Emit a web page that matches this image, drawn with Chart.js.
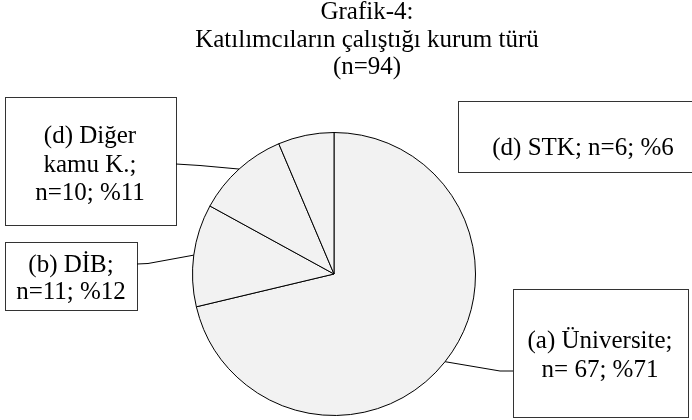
<!DOCTYPE html>
<html>
<head>
<meta charset="utf-8">
<title>Grafik-4</title>
<script src="https://cdn.jsdelivr.net/npm/chart.js@4.4.1/dist/chart.umd.min.js"></script>
<style>
  html, body { margin: 0; padding: 0; background: #fff; }
  #wrap { width: 692px; height: 420px; position: relative; }
</style>
</head>
<body>
<div id="wrap"><canvas id="pieChart"></canvas></div>
<script>
// chart data
const categories = ['(a) Üniversite', '(b) DİB', '(d) Diğer kamu K.', '(d) STK'];
const counts = [67, 11, 10, 6];
const percents = [71, 12, 11, 6];
const labelLines = [
  ['(a) Üniversite;', 'n= 67; %71'],
  ['(b) DİB;', 'n=11; %12'],
  ['(d) Diğer', 'kamu K.;', 'n=10; %11'],
  ['(d) STK; n=6; %6']
];
const titleLines = ['Grafik-4:', 'Katılımcıların çalıştığı kurum türü', '(n=94)'];

const FONT = '25px "Liberation Serif", "Times New Roman", serif';

// label boxes: x, y, w, h, text center x, first baseline, line gap, leader (elbow) or null
const boxes = [
  { x: 513, y: 289, w: 175, h: 128, cx: 600, base: 348, gap: 29, from: [513, 371], elbow: [500, 371] },
  { x: 5, y: 242, w: 132, h: 68, cx: 71, base: 272, gap: 27, from: [137, 264], elbow: [148, 263.5] },
  { x: 5, y: 97, w: 171, h: 128, cx: 90, base: 143, gap: 28.5, from: [176, 164], elbow: [200, 165.5] },
  { x: 458, y: 101, w: 250, h: 71, cx: 583, base: 155, gap: 0, from: null, elbow: null }
];

const labelPlugin = {
  id: 'boxLabels',
  afterDraw(chart) {
    const ctx = chart.ctx;
    const arcs = chart.getDatasetMeta(0).data;
    ctx.save();
    ctx.font = FONT;
    ctx.fillStyle = '#000';
    ctx.textAlign = 'center';
    ctx.textBaseline = 'alphabetic';

    // title
    const titleBase = [19, 46.5, 73.5];
    titleLines.forEach((t, i) => ctx.fillText(t, 367, titleBase[i]));

    boxes.forEach((b, i) => {
      ctx.lineWidth = 1;
      ctx.strokeStyle = '#333';
      ctx.fillStyle = '#fff';
      ctx.fillRect(b.x + 0.5, b.y + 0.5, b.w, b.h);
      ctx.strokeRect(b.x + 0.5, b.y + 0.5, b.w, b.h);

      if (b.from) {
        const arc = arcs[i];
        const p = arc.getProps(['x', 'y', 'startAngle', 'endAngle', 'outerRadius'], true);
        const mid = (p.startAngle + p.endAngle) / 2;
        const ex = p.x + Math.cos(mid) * p.outerRadius;
        const ey = p.y + Math.sin(mid) * p.outerRadius;
        ctx.strokeStyle = '#000';
        ctx.beginPath();
        ctx.moveTo(b.from[0], b.from[1]);
        ctx.lineTo(b.elbow[0], b.elbow[1]);
        ctx.lineTo(ex, ey);
        ctx.stroke();
      }

      ctx.fillStyle = '#000';
      labelLines[i].forEach((line, j) => {
        ctx.fillText(line, b.cx, b.base + j * b.gap);
      });
    });
    ctx.restore();
  }
};

document.addEventListener('DOMContentLoaded', function() {
  const ctx = document.getElementById('pieChart');
  new Chart(ctx.getContext('2d'), {
    type: 'pie',
    data: {
      labels: categories,
      datasets: [{
        data: counts,
        backgroundColor: '#f2f2f2',
        borderColor: '#000',
        borderWidth: 1
      }]
    },
    options: {
      responsive: true,
      maintainAspectRatio: false,
      animation: false,
      layout: {
        padding: { left: 192, right: 216, top: 132, bottom: 4 }
      },
      plugins: {
        legend: { display: false },
        tooltip: { enabled: false },
        title: { display: false }
      }
    },
    plugins: [labelPlugin]
  });
});
</script>
</body>
</html>
